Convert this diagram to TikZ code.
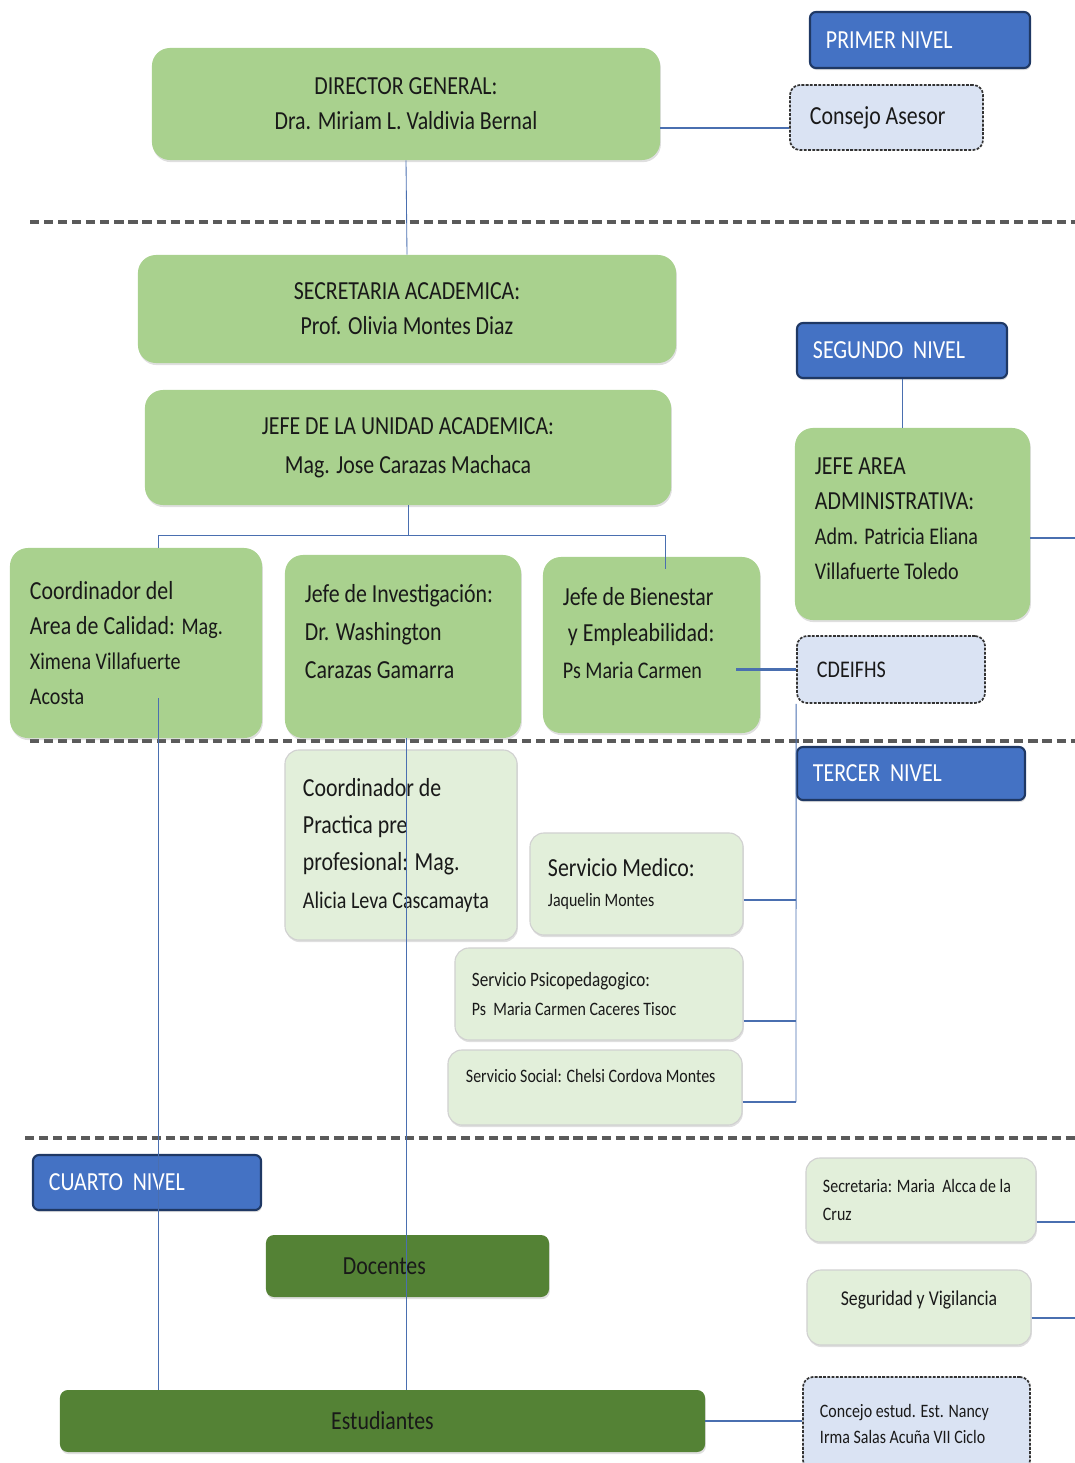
\documentclass[tikz,border=0pt]{standalone}
\usepackage{fontspec}
\setmainfont{Carlito}[FakeStretch=0.84]
\usetikzlibrary{shadows}

\definecolor{midgreen}{HTML}{A9D18E}
\definecolor{palegreen}{HTML}{E2EFDA}
\definecolor{darkgreen}{HTML}{548235}
\definecolor{lvlblue}{HTML}{4472C4}
\definecolor{lvlborder}{HTML}{1F3864}
\definecolor{paleblue}{HTML}{DAE3F3}
\definecolor{wireblue}{HTML}{4A6FB0}
\definecolor{divgray}{HTML}{5A5A5A}

\newcommand{\fsbig}{\fontsize{18.5}{25}\selectfont}
\newcommand{\fsmid}{\fontsize{17}{25}\selectfont}
\newcommand{\fssmall}{\fontsize{13.5}{20}\selectfont}

\begin{document}
\begin{tikzpicture}[
  x=0.025cm, y=-0.025cm,
  shade/.style={drop shadow={opacity=0.25, shadow xshift=0.6pt, shadow yshift=-1.5pt}},
  main/.style={shade, fill=midgreen, rounded corners=0.45cm, inner sep=0pt, text=black!90, align=flush center, font=\fsbig},
  mainleft/.style={main, align=flush left, inner xsep=0.5cm},
  pale/.style={shade, fill=palegreen, draw=black!18, line width=0.8pt, rounded corners=0.35cm, inner sep=0pt, inner xsep=0.5cm, text=black!90, align=flush left, font=\fsbig},
  dark/.style={shade, fill=darkgreen, rounded corners=0.2cm, inner sep=0pt, text=black!90, align=flush center, font=\fsbig},
  level/.style={shade, fill=lvlblue, draw=lvlborder, line width=1.5pt, rounded corners=0.15cm, inner sep=0pt, inner xsep=0.4cm, text=white, align=flush left, font=\fsbig},
  dashbox/.style={fill=paleblue, draw=black!80, line width=1.2pt, dash pattern=on 2pt off 1pt, rounded corners=0.25cm, inner sep=0pt, inner xsep=0.5cm, text=black!90, align=flush left, font=\fsbig},
  divider/.style={draw=divgray, line width=2.4pt, dash pattern=on 6.5pt off 3.5pt},
  thinwire/.style={draw=wireblue, line width=0.6pt},
  thickwire/.style={draw=wireblue, line width=2pt}
  ]

  \useasboundingbox (0,0) rectangle (1075,1463);

  % level dividers
  \draw[divider] (30,222) -- (1075,222);
  \draw[divider] (30,741) -- (1075,741);
  \draw[divider] (25,1138) -- (1075,1138);

  % first level
  \node[level, minimum width=5.5cm, minimum height=1.4cm, text width=4.7cm] (lvlone) at (920,40) {PRIMER NIVEL};
  \node[main, minimum width=12.7cm, minimum height=2.8cm] (dir) at (406,104) {DIRECTOR GENERAL:\\ Dra. Miriam L. Valdivia Bernal};
  \node[dashbox, minimum width=4.825cm, minimum height=1.625cm, text width=3.825cm] (consejo) at (886.5,117.5) {Consejo Asesor};

  % second level
  \node[main, minimum width=13.45cm, minimum height=2.7cm] (secac) at (407,309) {SECRETARIA ACADEMICA:\\ Prof. Olivia Montes Diaz};
  \node[main, minimum width=13.15cm, minimum height=2.875cm, font=\fontsize{18.5}{28}\selectfont] (jefeua) at (408,447.5) {JEFE DE LA UNIDAD ACADEMICA:\\ Mag. Jose Carazas Machaca};
  \node[level, minimum width=5.25cm, minimum height=1.375cm, text width=4.45cm] (lvltwo) at (902,350.5) {SEGUNDO\ \ NIVEL};
  \node[mainleft, minimum width=5.875cm, minimum height=4.8cm, text width=4.875cm, text depth=2.9cm] (admin) at (912.5,524) {JEFE AREA\\ ADMINISTRATIVA:\\ {\fsmid Adm. Patricia Eliana}\\ {\fsmid Villafuerte Toledo}};

  \node[mainleft, minimum width=6.3cm, minimum height=4.75cm, text width=5.3cm] (calidad) at (136,643) {Coordinador del\\ Area de Calidad: {\fsmid Mag.}\\ {\fsmid Ximena Villafuerte}\\ {\fsmid Acosta}};
  \node[mainleft, minimum width=5.9cm, minimum height=4.575cm, text width=4.9cm, text depth=2.65cm, font=\fontsize{18.5}{27}\selectfont] (investig) at (403,646.5) {Jefe de Investigación:\\ Dr. Washington\\ Carazas Gamarra};
  \node[mainleft, minimum width=5.425cm, minimum height=4.4cm, text width=4.425cm, text depth=2.45cm, font=\fontsize{18.5}{26}\selectfont] (bienestar) at (651.5,645) {Jefe de Bienestar\\ \ y Empleabilidad:\\ {\fsmid Ps Maria Carmen}};
  \node[dashbox, minimum width=4.7cm, minimum height=1.675cm, text width=3.7cm, font=\fsmid] (cdeifhs) at (891,669.5) {CDEIFHS};

  % third level
  \node[level, minimum width=5.7cm, minimum height=1.325cm, text width=4.9cm] (lvlthree) at (911,773.5) {TERCER\ \ NIVEL};
  \node[pale, minimum width=5.8cm, minimum height=4.75cm, text width=4.9cm, inner xsep=0.45cm, font=\fontsize{18.5}{26.5}\selectfont] (practica) at (401,845) {Coordinador de\\ Practica pre\\ profesional: Mag.\\ {\fsmid Alicia Leva Cascamayta}};
  \node[pale, minimum width=5.325cm, minimum height=2.55cm, text width=4.425cm, inner xsep=0.45cm, font=\fontsize{18.5}{21}\selectfont] (medico) at (636.5,884) {Servicio Medico:\\ {\fssmall Jaquelin Montes}};
  \node[pale, minimum width=7.2cm, minimum height=2.3cm, text width=6.35cm, inner xsep=0.425cm, font=\fontsize{14.5}{21}\selectfont] (psico) at (599,994) {Servicio Psicopedagogico:\\ {\fssmall Ps\ \ Maria Carmen Caceres Tisoc}};
  \node[pale, minimum width=7.35cm, minimum height=1.875cm, text width=6.45cm, inner xsep=0.45cm, text depth=0.6cm, font=\fssmall] (social) at (595,1087.5) {Servicio Social: Chelsi Cordova Montes};

  % fourth level
  \node[level, minimum width=5.7cm, minimum height=1.375cm, text width=4.9cm] (lvlfour) at (147,1182.5) {CUARTO\ \ NIVEL};
  \node[dark, minimum width=7.075cm, minimum height=1.55cm, text width=3.225cm, inner xsep=1.925cm, align=flush left] (docentes) at (407.5,1266) {Docentes};
  \node[dark, minimum width=16.125cm, minimum height=1.55cm] (estud) at (382.5,1421) {Estudiantes};
  \node[pale, minimum width=5.75cm, minimum height=2.1cm, text width=4.9cm, inner xsep=0.425cm, font=\fontsize{13.5}{20}\selectfont] (secre) at (921,1200) {Secretaria: Maria\ \ Alcca de la\\ Cruz};
  \node[pale, minimum width=5.6cm, minimum height=1.875cm, text width=4.6cm, align=flush center, text depth=0.45cm, font=\fontsize{15}{20}\selectfont] (segur) at (919,1307.5) {Seguridad y Vigilancia};
  \node[dashbox, minimum width=5.675cm, minimum height=2.325cm, text width=4.825cm, inner xsep=0.425cm, font=\fontsize{13.5}{18.5}\selectfont] (concejo) at (916.5,1423.5) {Concejo estud. Est. Nancy\\ Irma Salas Acuña VII Ciclo};

  % free ends of the connectors
  \coordinate (brl) at (158,535);
  \coordinate (brr) at (665,535);
  \coordinate (rail) at (796,1102);
  \coordinate (rmed) at (796,900);
  \coordinate (rpsi) at (796,1021);
  \coordinate (adminout) at (1075,538);
  \coordinate (secreout) at (1075,1222);
  \coordinate (segurout) at (1075,1318);
  \coordinate (dirout) at (660,128);

  % thin connectors
  \draw[thinwire] (dir.south) -- (secac.north);
  \draw[thinwire] (jefeua.south) -- (jefeua.south |- brl);
  \draw[thinwire] (brl) -- (brr);
  \draw[thinwire] (brl) -- (brl |- calidad.north);
  \draw[thinwire] (brr) -- ([yshift=-0.3cm]brr |- bienestar.north);
  \draw[thinwire] ([yshift=1.0cm]brl |- calidad.south) -- (brl |- estud.north);
  \draw[thinwire] (investig.south -| dir.south) -- (estud.north -| dir.south);
  \draw[thinwire] (lvltwo.south) -- (lvltwo.south |- admin.north);
  \draw[thinwire] (cdeifhs.south west) -- (rail);

  % thick connectors
  \draw[thickwire] (dirout) -- (consejo.west |- dirout);
  \draw[thickwire] ([xshift=-0.6cm]bienestar.east |- cdeifhs.west) -- (cdeifhs.west);
  \draw[thickwire] (admin.east |- adminout) -- (adminout);
  \draw[thickwire] (medico.east |- rmed) -- (rmed);
  \draw[thickwire] (psico.east |- rpsi) -- (rpsi);
  \draw[thickwire] (social.east |- rail) -- (rail);
  \draw[thickwire] (secre.east |- secreout) -- (secreout);
  \draw[thickwire] (segur.east |- segurout) -- (segurout);
  \draw[thickwire] (estud.east) -- (estud.east -| concejo.west);

\end{tikzpicture}
\end{document}
